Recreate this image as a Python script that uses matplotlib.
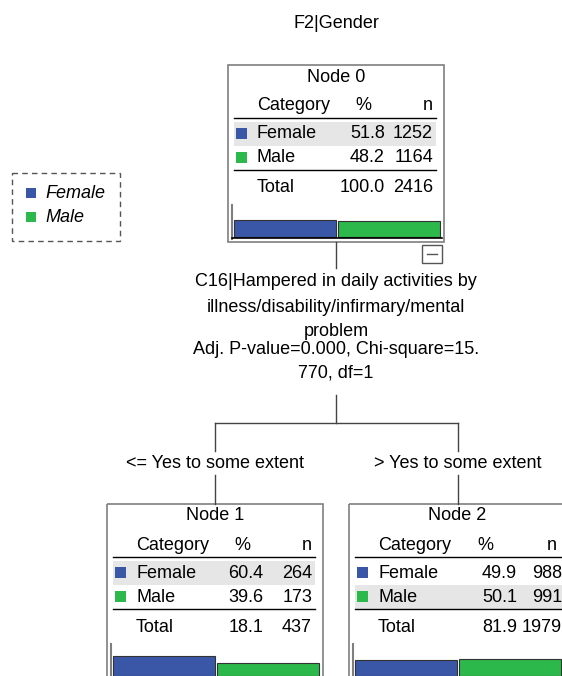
import matplotlib.pyplot as plt
from matplotlib.patches import Rectangle

plt.rcParams['font.family'] = ['Liberation Sans', 'DejaVu Sans']

# data
target = "F2|Gender"
categories = ["Female", "Male"]
node_names = ["Node 0", "Node 1", "Node 2"]
node_pct = [[51.8, 48.2], [60.4, 39.6], [49.9, 50.1]]
node_n = [[1252, 1164], [264, 173], [988, 991]]
node_total_pct = [100.0, 18.1, 81.9]
node_total_n = [2416, 437, 1979]
split_var = ["C16|Hampered in daily activities by",
             "illness/disability/infirmary/mental",
             "problem"]
split_stats = ["Adj. P-value=0.000, Chi-square=15.", "770, df=1"]
branch_labels = ["<= Yes to some extent", "> Yes to some extent"]

colors = ["#3A57A7", "#2DB84C"]
W, H = 562, 676
fs = 13

fig = plt.figure(figsize=(W / 100, H / 100), dpi=100)
ax = fig.add_axes([0, 0, 1, 1])
ax.set_xlim(0, W)
ax.set_ylim(H, 0)
ax.axis("off")

# node layout: left, top, column offsets, table width
nodes = [
    dict(x=228, y=65, pct_r=157, pct_h=135, n_h=205, n_r=205, tw=202),
    dict(x=107, y=504, pct_r=156, pct_h=135, n_h=205, n_r=205, tw=202),
    dict(x=349, y=504, pct_r=168, pct_h=136, n_h=208, n_r=213, tw=215),
]
bw = 216


def draw_node(i):
    nd = nodes[i]
    x0, y0 = nd["x"], nd["y"]
    tw = nd["tw"]
    pct = node_pct[i]
    n = node_n[i]
    ax.add_patch(Rectangle((x0, y0), bw, 177, fill=False, ec="#7f7f7f", lw=1.2))
    ax.text(x0 + bw / 2, y0 + 12, node_names[i], ha="center", va="center", fontsize=fs)
    ax.text(x0 + 29, y0 + 41, "Category", ha="left", va="center", fontsize=fs)
    ax.text(x0 + nd["pct_h"], y0 + 41, "%", ha="center", va="center", fontsize=fs)
    ax.text(x0 + nd["n_h"], y0 + 41, "n", ha="right", va="center", fontsize=fs)
    ax.plot([x0 + 6, x0 + 6 + tw], [y0 + 53, y0 + 53], color="black", lw=1)
    top = max(range(len(pct)), key=lambda k: pct[k])
    for k, cat in enumerate(categories):
        ry = y0 + 69 + k * 24
        if k == top:
            ax.add_patch(Rectangle((x0 + 6, ry - 12), tw, 24, color="#e6e6e6", lw=0))
        ax.add_patch(Rectangle((x0 + 8, ry - 6), 11, 11, color=colors[k], lw=0))
        ax.text(x0 + 29, ry, cat, ha="left", va="center", fontsize=fs)
        ax.text(x0 + nd["pct_r"], ry, f"{pct[k]:.1f}", ha="right", va="center", fontsize=fs)
        ax.text(x0 + nd["n_r"], ry, str(n[k]), ha="right", va="center", fontsize=fs)
    ax.plot([x0 + 6, x0 + 6 + tw], [y0 + 105, y0 + 105], color="black", lw=1)
    ax.text(x0 + 29, y0 + 123, "Total", ha="left", va="center", fontsize=fs)
    ax.text(x0 + nd["pct_r"], y0 + 123, f"{node_total_pct[i]:.1f}", ha="right", va="center", fontsize=fs)
    ax.text(x0 + nd["n_r"], y0 + 123, str(node_total_n[i]), ha="right", va="center", fontsize=fs)
    # bar chart
    base = y0 + 172
    ax.plot([x0 + 4, x0 + 4], [y0 + 140, base + 2], color="#7f7f7f", lw=1.5)
    ax.plot([x0 + 4, x0 + bw - 2], [base + 1, base + 1], color="black", lw=1.2)
    xs = [x0 + 5 + 52, x0 + 5 + 52 + 104]
    ax.bar(xs, [-p * 0.33 for p in pct], width=102, bottom=base, color=colors,
           edgecolor="#333333", linewidth=0.8)


for i in range(3):
    draw_node(i)

ax.text(336, 23, target, ha="center", va="center", fontsize=fs)

# collapse box under node 0
ax.add_patch(Rectangle((422, 245), 20, 18, fill=False, ec="#555555", lw=1))
ax.plot([427, 437], [254, 254], color="#555555", lw=1)

# connectors
lc = "#444444"
ax.plot([336, 336], [242, 268], color=lc, lw=1)
for j, line in enumerate(split_var):
    ax.text(336, 282 + j * 25, line, ha="center", va="center", fontsize=fs)
for j, line in enumerate(split_stats):
    ax.text(336, 350 + j * 23, line, ha="center", va="center", fontsize=fs)
ax.plot([336, 336], [395, 423], color=lc, lw=1)
ax.plot([215, 458], [423, 423], color=lc, lw=1)
for bx, lab in zip([215, 458], branch_labels):
    ax.plot([bx, bx], [423, 451], color=lc, lw=1)
    ax.text(bx, 463, lab, ha="center", va="center", fontsize=fs)
    ax.plot([bx, bx], [475, 504], color=lc, lw=1)

# legend
ax.add_patch(Rectangle((12, 173), 108, 68, fill=False, ec="#555555", lw=1, ls=(0, (4, 3))))
for k, cat in enumerate(categories):
    ly = 193 + k * 24
    ax.add_patch(Rectangle((26, ly - 5), 10, 10, color=colors[k], lw=0))
    ax.text(45, ly + 1, cat, ha="left", va="center", fontsize=fs, style="italic")

fig.savefig("out.png", dpi=100)
